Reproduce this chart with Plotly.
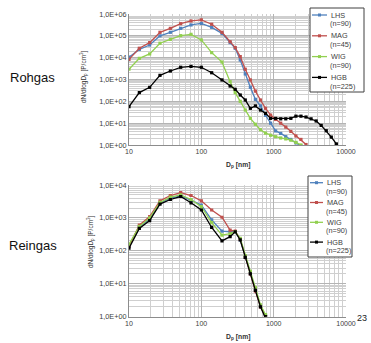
import plotly.graph_objects as go

# ---------------- data ----------------
SERIES = ["LHS", "MAG", "WIG", "HGB"]
N_LABELS = ["(n=90)", "(n=45)", "(n=90)", "(n=225)"]

# Rohgas (raw gas)
X_ROH = [10, 13.9, 19.3, 26.8, 37.3, 51.8, 72, 100, 139, 193, 250, 294, 345, 405, 476,
         559, 657, 772, 907, 1065, 1251, 1470, 1727, 2029, 2383, 2800, 3289, 3864, 4539,
         5333, 6265, 7360, 8650]
LHS_ROH = [1.05e4, 2.4e4, 3.8e4, 1.0e5, 1.45e5, 2.2e5, 3.15e5, 3.7e5, 2.45e5, 1.3e5, 4.9e4,
           2.7e4, 7.8e3, 1.8e3, 440, 123, 62, 23, 10, 4.4, 3.4, 2.4, 1.8, 1.25, 0.9, 0.4]
MAG_ROH = [8.3e3, 2.7e4, 4.9e4, 1.45e5, 2.2e5, 3.6e5, 4.8e5, 5.4e5, 3.4e5, 1.45e5, 5.4e4,
           2.9e4, 1.12e4, 2.95e3, 955, 295, 115, 48, 23.4, 14.8, 10, 6.6, 4.2, 2.6, 1.8,
           1.05, 0.5]
WIG_ROH = [2.95e3, 9.3e3, 1.48e4, 4.57e4, 6.9e4, 1.02e5, 1.17e5, 6.5e4, 1.7e4, 6.3e3, 794,
           251, 100, 40, 16.6, 8.9, 5.0, 3.5, 2.8, 2.4, 2.1, 1.9, 1.66, 1.32, 1.0, 0.5]
HGB_ROH = [57.5, 251, 437, 1550, 2450, 3630, 3980, 3630, 2040, 955, 501, 355, 195, 115, 47.9,
           61.7, 39.8, 28.2, 16.6, 16.6, 15.8, 15.8, 16.6, 20.9, 20.9, 19.1, 15.8, 12.6, 7.9,
           4.5, 2.3, 1.12, 0.5]

# Reingas (clean gas)
X_REIN = [10, 13.9, 19.3, 26.8, 37.3, 51.8, 72, 100, 139, 193, 250, 294, 345, 405, 476,
          559, 657, 772, 907]
LHS_REIN = [138, 525, 933, 2820, 3980, 4680, 3470, 2450, 871, 398, 380, 380, 214, 63, 21,
            6.6, 2.1, 1.07, 0.4]
MAG_REIN = [138, 603, 1100, 3310, 4790, 5890, 4790, 3310, 1740, 1050, 427, 398, 224, 63, 20,
            6.0, 2.0, 1.0, 0.4]
WIG_REIN = [158, 550, 1000, 2950, 4270, 5010, 3630, 2190, 724, 302, 331, 380, 240, 72, 24,
            7.6, 2.3, 1.15, 0.45]
HGB_REIN = [120, 479, 832, 2630, 3630, 4470, 2880, 1740, 513, 200, 269, 380, 214, 63, 20,
            6.3, 2.0, 1.0, 0.4]

Y_TICKS_ROH = [1, 10, 100, 1e3, 1e4, 1e5, 1e6]
Y_TEXT_ROH = ["1,0E+00", "1,0E+01", "1,0E+02", "1,0E+03", "1,0E+04", "1,0E+05", "1,0E+06"]
Y_TICKS_REIN = [1, 10, 100, 1e3, 1e4]
Y_TEXT_REIN = ["1,0E+00", "1,0E+01", "1,0E+02", "1,0E+03", "1,0E+04"]
X_TICKS = [10, 100, 1000, 10000]
X_TEXT = ["10", "100", "1000", "10000"]

COLORS = ["#4f81bd", "#c0504d", "#92d050", "#000000"]

# ---------------- figure ----------------
W, H = 371, 343
FONT = "Liberation Sans, Arial, sans-serif"


def px_x(p):
    return p / W


def px_y(p):
    return (H - p) / H


fig = go.Figure()
roh = [LHS_ROH, MAG_ROH, WIG_ROH, HGB_ROH]
rein = [LHS_REIN, MAG_REIN, WIG_REIN, HGB_REIN]
for name, c, ys in zip(SERIES, COLORS, roh):
    fig.add_trace(go.Scatter(
        x=X_ROH[:len(ys)], y=ys, xaxis="x", yaxis="y", mode="lines+markers",
        name=name, showlegend=False,
        line=dict(color=c, width=1.3), marker=dict(symbol="square", size=3.2, color=c)))
for name, c, ys in zip(SERIES, COLORS, rein):
    fig.add_trace(go.Scatter(
        x=X_REIN[:len(ys)], y=ys, xaxis="x2", yaxis="y2", mode="lines+markers",
        name=name, showlegend=False,
        line=dict(color=c, width=1.3), marker=dict(symbol="square", size=3.2, color=c)))

XDOM = [px_x(129), px_x(346)]
grid_common = dict(
    showgrid=True, gridcolor="#b4b4b4", gridwidth=1,
    minor=dict(showgrid=True, gridcolor="#cfcfcf", gridwidth=1, dtick="D1", ticks=""),
    showline=True, linecolor="#8c8c8c", linewidth=1,
    ticks="", zeroline=False, automargin=False,
)
xfont = dict(family=FONT, size=7, color="#404040")
yfont = dict(family=FONT, size=7.3, color="#404040")

fig.update_layout(
    width=W, height=H, margin=dict(l=0, r=0, t=0, b=0, autoexpand=False),
    paper_bgcolor="white", plot_bgcolor="white",
    font=dict(family=FONT, color="#222"),
    showlegend=False,
    xaxis=dict(type="log", range=[1, 4], domain=XDOM, anchor="y",
               tickvals=X_TICKS, ticktext=X_TEXT, tickfont=xfont, **grid_common),
    yaxis=dict(type="log", range=[0, 6], domain=[px_y(145), px_y(14)], anchor="x",
               tickvals=Y_TICKS_ROH, ticktext=Y_TEXT_ROH, tickfont=yfont, **grid_common),
    xaxis2=dict(type="log", range=[1, 4], domain=XDOM, anchor="y2",
                tickvals=X_TICKS, ticktext=X_TEXT, tickfont=xfont, **grid_common),
    yaxis2=dict(type="log", range=[0, 4], domain=[px_y(316.7), px_y(185)], anchor="x2",
                tickvals=Y_TICKS_REIN, ticktext=Y_TEXT_REIN, tickfont=yfont, **grid_common),
)

ann = []
shapes = []


def text(x, y, t, size, xanchor="center", yanchor="middle", angle=0, color="#333"):
    ann.append(dict(x=px_x(x), y=px_y(y), xref="paper", yref="paper", text=t,
                    showarrow=False, xanchor=xanchor, yanchor=yanchor, textangle=angle,
                    font=dict(family=FONT, size=size, color=color)))


# axis titles
text(238, 165, "<b>D<sub>p</sub> [nm]</b>", 6.8)
text(238, 337, "<b>D<sub>p</sub> [nm]</b>", 6.8)
text(83, 77, "dN/dlogD<sub>p</sub> [P/cm<sup>3</sup>]", 6.5, angle=-90)
text(90, 242, "dN/dlogD<sub>p</sub> [P/cm<sup>3</sup>]", 6.5, angle=-90)
text(32, 77, "Rohgas", 13, color="#111")
text(33, 245, "Reingas", 13, color="#111")
text(362, 318, "23", 9, color="#222")


# manual legends
def legend(box, line_x, text_x, rows, step):
    x0, y0, x1, y1 = box
    shapes.append(dict(type="rect", xref="paper", yref="paper",
                       x0=px_x(x0), x1=px_x(x1), y0=px_y(y1), y1=px_y(y0),
                       line=dict(color="#404040", width=1), fillcolor="white", layer="above"))
    for i, (name, n, c) in enumerate(zip(SERIES, N_LABELS, COLORS)):
        yy = rows + i * step
        shapes.append(dict(type="line", xref="paper", yref="paper",
                           x0=px_x(line_x[0]), x1=px_x(line_x[1]), y0=px_y(yy), y1=px_y(yy),
                           line=dict(color=c, width=1.3), layer="above"))
        xm = (line_x[0] + line_x[1]) / 2
        shapes.append(dict(type="rect", xref="paper", yref="paper",
                           x0=px_x(xm - 1.5), x1=px_x(xm + 1.5),
                           y0=px_y(yy + 1.5), y1=px_y(yy - 1.5),
                           line=dict(width=0), fillcolor=c, layer="above"))
        text(text_x, yy, name, 7.3, xanchor="left", color="#404040")
        text(text_x - 1, yy + 8.7, n, 7.3, xanchor="left", color="#404040")


legend((310, 8, 364, 92), (312, 327), 329, 15, 20.8)
legend((308, 176, 352, 257), (310, 323), 325, 182.7, 19.8)

fig.update_layout(annotations=ann, shapes=shapes)

fig.write_html(
    "out.html",
    config={"displayModeBar": False, "staticPlot": True},
    post_script="document.body.style.margin='0';document.body.style.padding='0';"
                "document.documentElement.style.overflow='hidden';",
)
